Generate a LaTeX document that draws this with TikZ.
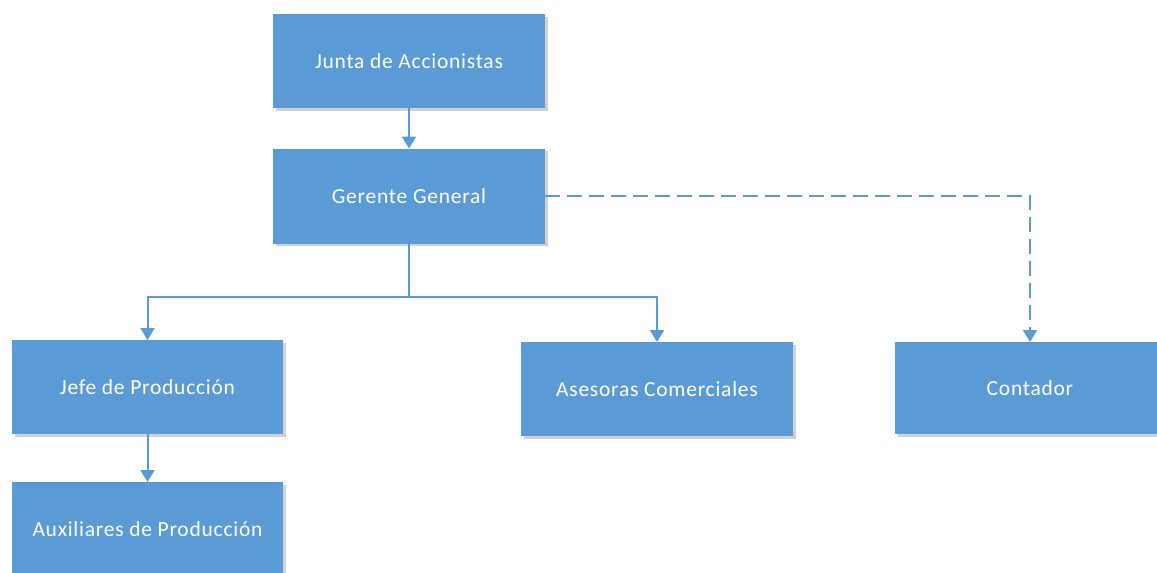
\documentclass[tikz,border=0pt]{standalone}
\usepackage{fontspec}
\setmainfont{Carlito}[LetterSpace=3.5]
\usetikzlibrary{arrows.meta,shadows}
\definecolor{boxblue}{HTML}{5B9BD5}
\definecolor{lineblue}{HTML}{5B9BD5}
\tikzset{
  orgbox/.style={fill=boxblue, draw=none, outer sep=0pt, inner sep=0pt,
    minimum width=272pt, minimum height=94pt, text=white,
    font=\fontsize{21.5}{24}\selectfont,
    drop shadow={shadow xshift=2.5pt, shadow yshift=-2.5pt, fill=black, opacity=0.18}},
  conn/.style={draw=lineblue, line width=2pt, -{Triangle[width=14pt,length=12pt]}},
  dconn/.style={conn, dash pattern=on 15pt off 7pt}
}
\begin{document}
\begin{tikzpicture}[x=1pt,y=-1pt]
\useasboundingbox (0,0) rectangle (1157,573);
\node[orgbox] (junta) at (409,61) {Junta de Accionistas};
\node[orgbox, minimum height=95pt] (ger) at (409,196) {Gerente General};
\node[orgbox, minimum width=271pt] (jefe) at (147.5,387) {Jefe de Producción};
\node[orgbox] (ases) at (657,389) {Asesoras Comerciales};
\node[orgbox, minimum width=270pt, minimum height=92pt] (cont) at (1030,388) {Contador};
\node[orgbox, minimum width=271pt] (aux) at (147.5,529) {Auxiliares de Producción};
\coordinate (bus) at (409,297);
\draw[conn] (junta.south) -- (ger.north);
\draw[draw=lineblue, line width=2pt] (ger.south) -- (bus);
\draw[conn] (bus) -| (jefe.north);
\draw[conn] (bus) -| (ases.north);
\draw[dconn] (ger.east) -| (cont.north);
\draw[conn] (jefe.south) -- (aux.north);
\end{tikzpicture}
\end{document}
